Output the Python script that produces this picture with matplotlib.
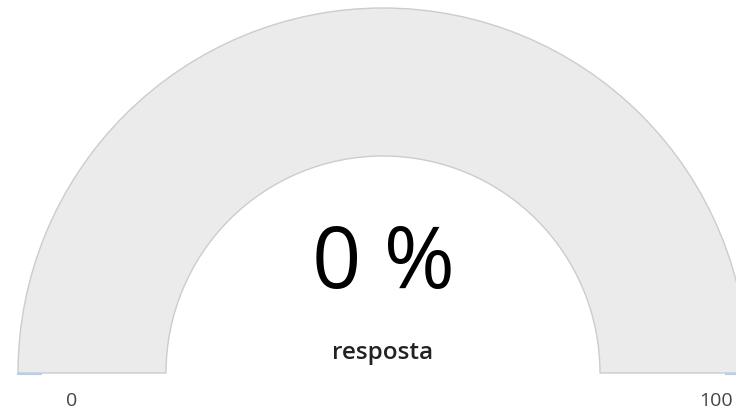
import matplotlib.pyplot as plt
from matplotlib.patches import Wedge

# gauge data
value = 0
vmin, vmax = 0, 100
label = 'resposta'
unit = '%'

fig = plt.figure(figsize=(7.36, 4.14), dpi=100)
ax = fig.add_axes([0, 0, 1, 1])
ax.set_xlim(0, 736)
ax.set_ylim(0, 414)
ax.axis('off')

cx, cy = 383, 40
r_out, r_in = 365, 217

# background band
ax.add_patch(Wedge((cx, cy), r_out, 0, 180, width=r_out - r_in,
                   facecolor='#ebebeb', edgecolor='#cccccc', lw=1))

# value band
frac = (value - vmin) / (vmax - vmin)
if frac > 0:
    ax.add_patch(Wedge((cx, cy), r_out, 180 - 180 * frac, 180,
                       width=r_out - r_in, facecolor='#a8c8ef',
                       edgecolor='#a8c8ef', lw=1))
# small end markers at the base
ax.plot([cx - r_out, cx - r_out + 23], [cy - 1, cy - 1], color='#b4cff0', lw=1.5)
ax.plot([cx + r_out - 22, cx + r_out], [cy - 1, cy - 1], color='#b4cff0', lw=1.5)

ax.text(cx, 414 - 266, f'{value} {unit}', ha='center', va='center',
        fontsize=62, color='black', family='Open Sans')
ax.text(cx, 414 - 353, label, ha='center', va='center',
        fontsize=17.5, fontweight='semibold', color='#222222', family='Open Sans')

ax.text(72, 414 - 401, str(vmin), ha='center', va='center',
        fontsize=14, color='#444444', family='Open Sans')
ax.text(716, 414 - 401, str(vmax), ha='center', va='center',
        fontsize=14, color='#444444', family='Open Sans')

fig.savefig('out.png', dpi=100)
